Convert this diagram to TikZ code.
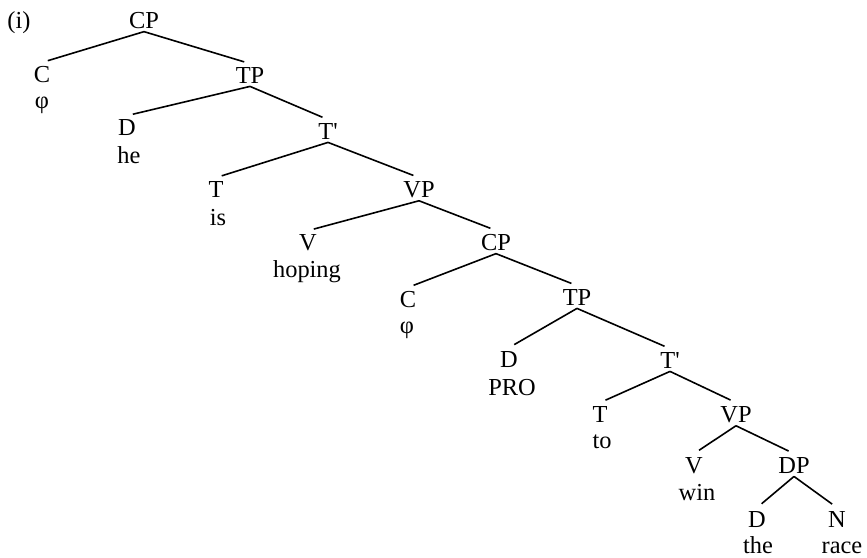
\documentclass[tikz,border=0pt]{standalone}
\usepackage{fontspec}
\setmainfont{Liberation Serif}
\begin{document}
\begin{tikzpicture}[x=0.5pt,y=-0.5pt,
  lab/.style={anchor=base,inner sep=1.5pt,font=\fontsize{12.2}{14}\selectfont},
  br/.style={line width=0.8pt,shorten >=3pt}]
\useasboundingbox (0,0) rectangle (867,557);
% labels
\node[lab] (ex) at (19,28) {(i)};
\node[lab] (cp0) at (144,28) {CP};
\node[lab] (c1) at (42,82) {C};
\node[lab] (w1) at (42,108) {φ};
\node[lab] (tp1) at (250,83) {TP};
\node[lab] (d2) at (127,135) {D};
\node[lab] (w2) at (129,163) {he};
\node[lab] (tb2) at (328,139) {T\textquotesingle};
\node[lab] (t3) at (216,197) {T};
\node[lab] (w3) at (218,225) {is};
\node[lab] (vp3) at (419,197) {VP};
\node[lab] (v4) at (308,250) {V};
\node[lab] (w4) at (307,277) {hoping};
\node[lab] (cp4) at (496,250) {CP};
\node[lab] (c5) at (408,307) {C};
\node[lab] (w5) at (407,333) {φ};
\node[lab] (tp5) at (577,305) {TP};
\node[lab] (d6) at (509,367) {D};
\node[lab] (w6) at (512,395) {PRO};
\node[lab] (tb6) at (670,368) {T\textquotesingle};
\node[lab] (t7) at (600,422) {T};
\node[lab] (w7) at (602,448) {to};
\node[lab] (vp7) at (736,422) {VP};
\node[lab] (v8) at (694,473) {V};
\node[lab] (w8) at (697,500) {win};
\node[lab] (dp8) at (794,473) {DP};
\node[lab] (d9) at (757,527) {D};
\node[lab] (w9a) at (758,553) {the};
\node[lab] (n9) at (837,527) {N};
\node[lab] (w9b) at (842,553) {race};
% branches
\draw[br] (cp0.south) -- (c1.north);
\draw[br] (cp0.south) -- (tp1.north);
\draw[br] (tp1.south) -- (d2.north);
\draw[br] (tp1.south) -- (tb2.north);
\draw[br] (tb2.south) -- (t3.north);
\draw[br] (tb2.south) -- (vp3.north);
\draw[br] (vp3.south) -- (v4.north);
\draw[br] (vp3.south) -- (cp4.north);
\draw[br] (cp4.south) -- (c5.north);
\draw[br] (cp4.south) -- (tp5.north);
\draw[br] (tp5.south) -- (d6.north);
\draw[br] (tp5.south) -- (tb6.north);
\draw[br] (tb6.south) -- (t7.north);
\draw[br] (tb6.south) -- (vp7.north);
\draw[br] (vp7.south) -- (v8.north);
\draw[br] (vp7.south) -- (dp8.north);
\draw[br] (dp8.south) -- (d9.north);
\draw[br] (dp8.south) -- (n9.north);
\end{tikzpicture}
\end{document}
